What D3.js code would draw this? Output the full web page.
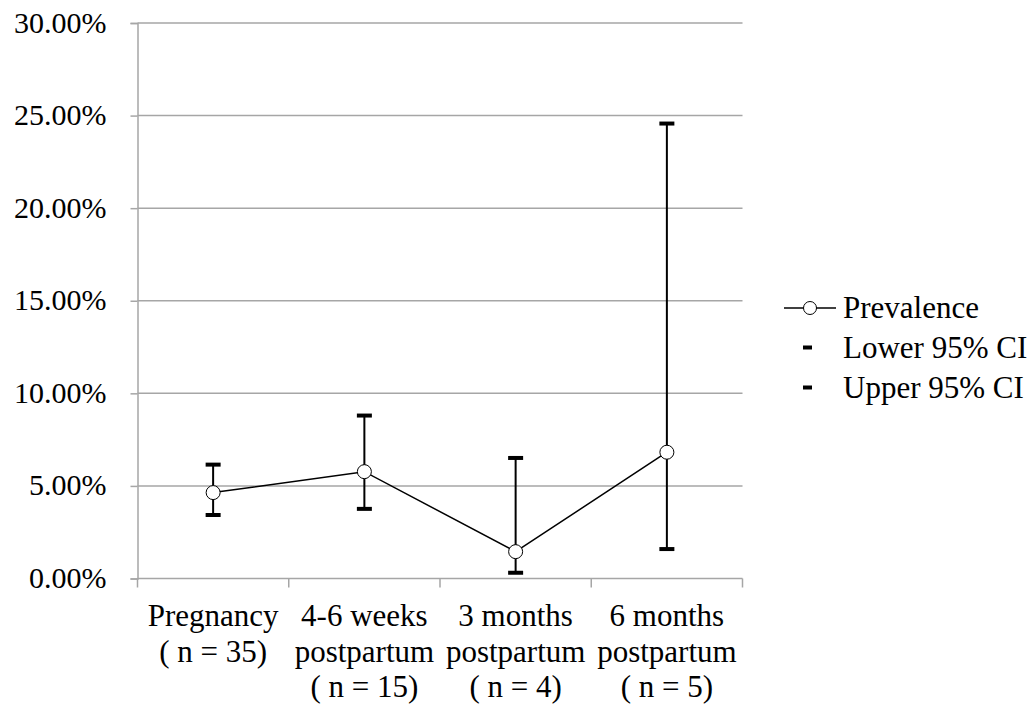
<!DOCTYPE html>
<html>
<head>
<meta charset="utf-8">
<script src="https://cdn.jsdelivr.net/npm/d3@7"></script>
<style>
  html, body { margin: 0; padding: 0; background: #fff; }
  svg { display: block; }
</style>
</head>
<body>
<svg id="chart" width="1036" height="711"></svg>
<script>
const categories = [
  ["Pregnancy", "( n = 35)"],
  ["4-6 weeks", "postpartum", "( n = 15)"],
  ["3 months", "postpartum", "( n = 4)"],
  ["6 months", "postpartum", "( n = 5)"]
];
const prevalence = [4.64, 5.77, 1.45, 6.82];
const lower95 = [3.43, 3.76, 0.31, 1.59];
const upper95 = [6.15, 8.80, 6.51, 24.57];
const yTicks = [0, 5, 10, 15, 20, 25, 30];
const legendLabels = ["Prevalence", "Lower 95% CI", "Upper 95% CI"];

const FONT = "'Liberation Serif', 'Times New Roman', Times, serif";
const svg = d3.select("#chart");
const pLeft = 137.5, pRight = 742.5, pTop = 23, pBottom = 578.5;
const gridColor = "#a6a6a6";

const x = d3.scaleBand().domain(d3.range(categories.length)).range([pLeft, pRight]);
const y = d3.scaleLinear().domain([0, 30]).range([pBottom, pTop]);

// gridlines
svg.append("g").selectAll("line").data(yTicks.filter(d => d > 0)).join("line")
  .attr("x1", pLeft).attr("x2", pRight)
  .attr("y1", d => y(d)).attr("y2", d => y(d))
  .attr("stroke", gridColor).attr("stroke-width", 1.5);

// y axis
const yAxis = d3.axisLeft(y).tickValues(yTicks).tickSize(7).tickPadding(24)
  .tickFormat(d => d.toFixed(2) + "%");
const gy = svg.append("g").attr("transform", `translate(${pLeft},0)`).call(yAxis);
gy.attr("font-family", FONT).attr("font-size", 30);
gy.select(".domain").attr("stroke", gridColor).attr("stroke-width", 1.5);
gy.selectAll(".tick line").attr("stroke", gridColor).attr("stroke-width", 1.5);
gy.selectAll(".tick text").attr("fill", "#000").attr("dy", "0.3em");

// x axis
const xTickPos = d3.range(categories.length + 1).map(i => pLeft + i * x.step());
svg.append("line").attr("x1", pLeft).attr("x2", pRight).attr("y1", pBottom).attr("y2", pBottom)
  .attr("stroke", gridColor).attr("stroke-width", 1.5);
svg.append("g").selectAll("line").data(xTickPos).join("line")
  .attr("x1", d => d).attr("x2", d => d).attr("y1", pBottom).attr("y2", pBottom + 9)
  .attr("stroke", gridColor).attr("stroke-width", 1.5);

// category labels
const lab = svg.append("g").attr("font-family", FONT).attr("font-size", 31);
categories.forEach((lines, i) => {
  const t = lab.append("text").attr("text-anchor", "middle")
    .attr("x", x(i) + x.bandwidth() / 2).attr("y", 626);
  lines.forEach((s, j) => {
    t.append("tspan").attr("x", x(i) + x.bandwidth() / 2).attr("dy", j === 0 ? 0 : 35.5).text(s);
  });
});

const cx = i => x(i) + x.bandwidth() / 2;

// error bars
const eb = svg.append("g");
eb.selectAll("line.err").data(prevalence).join("line").attr("class", "err")
  .attr("x1", (d, i) => cx(i)).attr("x2", (d, i) => cx(i))
  .attr("y1", (d, i) => y(lower95[i])).attr("y2", (d, i) => y(upper95[i]))
  .attr("stroke", "#000").attr("stroke-width", 2);
eb.selectAll("line.lo").data(lower95).join("line").attr("class", "lo")
  .attr("x1", (d, i) => cx(i) - 7.5).attr("x2", (d, i) => cx(i) + 7.5)
  .attr("y1", d => y(d)).attr("y2", d => y(d))
  .attr("stroke", "#000").attr("stroke-width", 4);
eb.selectAll("line.hi").data(upper95).join("line").attr("class", "hi")
  .attr("x1", (d, i) => cx(i) - 7.5).attr("x2", (d, i) => cx(i) + 7.5)
  .attr("y1", d => y(d)).attr("y2", d => y(d))
  .attr("stroke", "#000").attr("stroke-width", 4);

// prevalence line
const line = d3.line().x((d, i) => cx(i)).y(d => y(d));
svg.append("path").datum(prevalence).attr("d", line)
  .attr("fill", "none").attr("stroke", "#000").attr("stroke-width", 1.5);
svg.append("g").selectAll("circle").data(prevalence).join("circle")
  .attr("cx", (d, i) => cx(i)).attr("cy", d => y(d)).attr("r", 7)
  .attr("fill", "#fff").attr("stroke", "#000").attr("stroke-width", 1);

// legend
const lg = svg.append("g").attr("font-family", FONT).attr("font-size", 31);
const legY = [308, 347.5, 387.5];
lg.append("line").attr("x1", 784).attr("x2", 836).attr("y1", legY[0]).attr("y2", legY[0])
  .attr("stroke", "#000").attr("stroke-width", 1.5);
lg.append("circle").attr("cx", 810).attr("cy", legY[0]).attr("r", 6.5)
  .attr("fill", "#fff").attr("stroke", "#000").attr("stroke-width", 1);
[1, 2].forEach(k => {
  lg.append("line").attr("x1", 803).attr("x2", 812).attr("y1", legY[k]).attr("y2", legY[k])
    .attr("stroke", "#000").attr("stroke-width", 4);
});
legendLabels.forEach((s, k) => {
  lg.append("text").attr("x", 843).attr("y", legY[k] + 10).text(s);
});
</script>
</body>
</html>
